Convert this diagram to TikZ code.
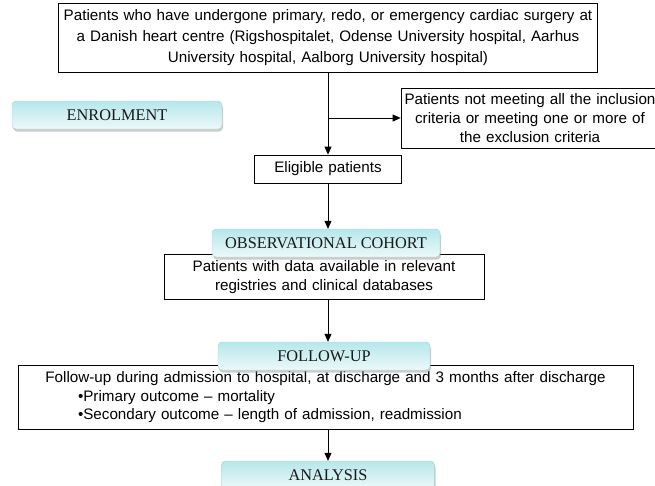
\documentclass[tikz,border=0pt]{standalone}
\usepackage{fontspec}
\setmainfont{Liberation Sans}
\newfontfamily\headfont{Liberation Serif}
\usetikzlibrary{arrows.meta}
\usetikzlibrary{shadows}

\definecolor{stagetop}{HTML}{B6E7EB}
\definecolor{stagebot}{HTML}{EDF9FA}
\definecolor{stageline}{HTML}{9ED6DA}

\tikzset{
 textbox/.style={draw=black, line width=.8pt, fill=white, align=center, inner sep=0pt,
   font=\fontsize{15.2}{19}\selectfont},
 stagebox/.style={draw=stageline, rounded corners=4pt, top color=stagetop, bottom color=stagebot,
   drop shadow={shadow xshift=1pt, shadow yshift=-2.5pt, fill=black!40},
   font=\headfont\fontsize{16.3}{18}\selectfont, text=black!90, inner sep=0pt, minimum height=28pt},
 flow/.style={black, line width=.8pt, -{Triangle[length=8pt,width=7pt]}}
}

\begin{document}
\begin{tikzpicture}[x=1pt,y=-1pt]
\useasboundingbox (0,0) rectangle (655,485);

% boxes of the flow
\node[textbox, text width=539pt, minimum height=69pt, font=\fontsize{15.2}{21}\selectfont] (top) at (328,37.5)
 {Patients who have undergone primary, redo, or emergency cardiac surgery at\\
  a Danish heart centre (Rigshospitalet, Odense University hospital, Aarhus\\
  University hospital, Aalborg University hospital)};
\node[textbox, text width=258pt, minimum height=60pt] (excl) at (530,118)
 {Patients not meeting all the inclusion\\ criteria or meeting one or more of\\ the exclusion criteria};
\node[textbox, text width=147pt, minimum height=28pt] (elig) at (328,169) {Eligible patients};
\node[textbox, text width=320pt, minimum height=45pt] (data) at (324,277)
 {Patients with data available in relevant\\ registries and clinical databases};
\node[textbox, text width=615pt, minimum height=64pt, font=\fontsize{15.2}{18.5}\selectfont] (fu) at (325.5,397.5)
 {Follow-up during admission to hospital, at discharge and 3 months after discharge\\
  \makebox[615pt][l]{\hspace*{60pt}•Primary outcome – mortality}\\
  \makebox[615pt][l]{\hspace*{60pt}•Secondary outcome – length of admission, readmission}};

% stage labels
\node[stagebox, minimum width=210pt] (enrol) at (117,115) {ENROLMENT};
\node[stagebox, minimum width=228pt] (obs) at (326,243) {OBSERVATIONAL COHORT};
\node[stagebox, minimum width=212pt] (follow) at (324,356) {FOLLOW-UP};
\node[stagebox, minimum width=213pt] (anal) at (328,475) {ANALYSIS};

% arrows
\draw[flow] (top) -- (elig);
\draw[flow] (top.south |- excl.west) -- (excl.west);
\draw[flow] (elig.south) -- (elig.south |- obs.north);
\draw[flow] (data.south -| elig.south) -- (follow.north -| elig.south);
\draw[flow] (fu.south -| elig.south) -- (anal.north -| elig.south);
\end{tikzpicture}
\end{document}
